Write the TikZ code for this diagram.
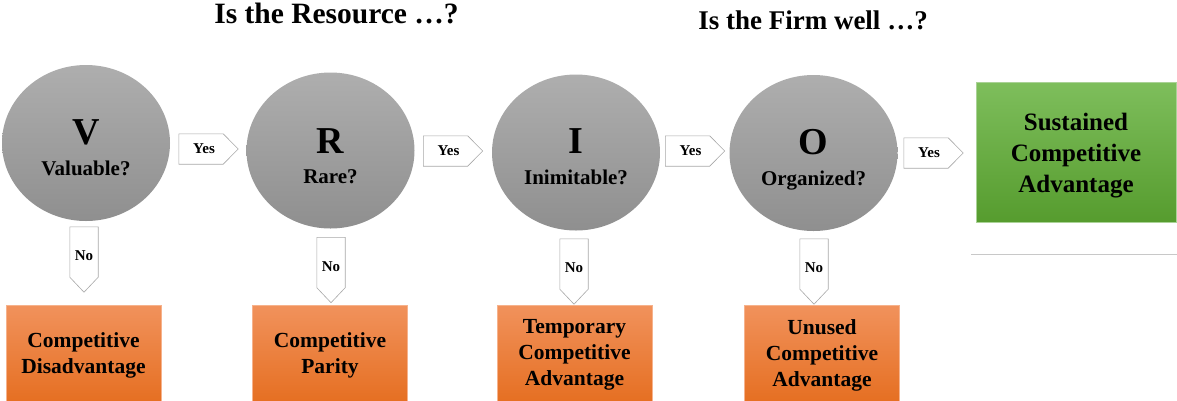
\documentclass[tikz,border=0pt]{standalone}
\usepackage{fontspec}
\setmainfont{Liberation Serif}
\usetikzlibrary{shapes.geometric}

\definecolor{circtop}{RGB}{174,174,174}
\definecolor{circbot}{RGB}{143,143,143}
\definecolor{ortop}{RGB}{241,146,92}
\definecolor{orbot}{RGB}{229,110,32}
\definecolor{orborder}{RGB}{246,178,140}
\definecolor{grtop}{RGB}{126,190,92}
\definecolor{grbot}{RGB}{86,156,46}
\definecolor{grborder}{RGB}{170,210,150}
\definecolor{arrowline}{RGB}{168,168,168}
\definecolor{rulegray}{RGB}{200,200,200}

\begin{document}
\begin{tikzpicture}[x=1pt,y=-1pt,
  question/.style={ellipse, minimum width=168pt, minimum height=156pt, inner sep=0pt,
    top color=circtop, bottom color=circbot},
  bigletter/.style={anchor=base, inner sep=0pt, font=\fontsize{38}{42}\selectfont\bfseries},
  subtext/.style={anchor=base, inner sep=0pt, font=\fontsize{21}{25}\selectfont\bfseries},
  heading/.style={anchor=base, inner sep=0pt},
  yesbody/.style={rectangle, minimum width=44pt, minimum height=30pt, inner sep=0pt,
    font=\fontsize{15}{18}\selectfont\bfseries},
  nobody/.style={rectangle, minimum width=28pt, minimum height=50pt, inner sep=0pt,
    font=\fontsize{15}{18}\selectfont\bfseries},
  blockarrow/.style={draw=arrowline, fill=white, line width=0.6pt, line join=miter},
  outcome/.style={rectangle, top color=ortop, bottom color=orbot, draw=orborder, line width=0.5pt,
    minimum width=155pt, minimum height=100pt, inner sep=0pt, align=center,
    font=\fontsize{21.5}{26}\selectfont\bfseries},
  success/.style={rectangle, top color=grtop, bottom color=grbot, draw=grborder, line width=0.5pt,
    minimum width=200pt, minimum height=140pt, inner sep=0pt},
  successtext/.style={inner sep=0pt, align=center, font=\fontsize{25}{31}\selectfont\bfseries},
]
\useasboundingbox (0,0) rectangle (1177,400);

% headings
\node[heading, font=\fontsize{29.5}{34}\selectfont\bfseries] (h1) at (336.5,23) {Is the Resource …?};
\node[heading, font=\fontsize{27}{32}\selectfont\bfseries] (h2) at (813,29) {Is the Firm well …?};

% the four questions
\node[question] (V) at (86,143) {};
\node[question] (R) at (330.5,150.5) {};
\node[question] (I) at (576,152.5) {};
\node[question] (O) at (813.5,153) {};

\node[bigletter] (Vl) at (86,144) {V};
\node[subtext]   (Vq) at (86,175) {Valuable?};
\node[bigletter] (Rl) at (330.5,153) {R};
\node[subtext]   (Rq) at (330.5,183) {Rare?};
\node[bigletter] (Il) at (576,153) {I};
\node[subtext]   (Iq) at (576,184) {Inimitable?};
\node[bigletter] (Ol) at (813.5,154) {O};
\node[subtext]   (Oq) at (813.5,185) {Organized?};

% "Yes" block arrows pointing right
\foreach \n/\x/\y in {yV/201/149, yR/445.5/151, yI/687.5/151, yO/926/153}{
  \node[yesbody] (\n) at (\x,\y) {};
  \draw[blockarrow] (\n.north west) -- (\n.north east) -- ([xshift=15pt]\n.east)
    -- (\n.south east) -- (\n.south west) -- cycle;
  \node[yesbody] (\n t) at ([xshift=3pt]\n.center) {Yes};
}

% "No" block arrows pointing down
\foreach \n/\x/\y in {nV/84/252, nR/331/262.5, nI/574/264, nO/814/264}{
  \node[nobody] (\n) at (\x,\y) {};
  \draw[blockarrow] (\n.north west) -- (\n.north east) -- (\n.south east)
    -- ([yshift=-15pt]\n.south) -- (\n.south west) -- cycle;
  \node[nobody] (\n t) at ([yshift=-4pt]\n.center) {No};
}

% outcomes
\node[outcome] (cV) at (83.5,355) {Competitive\\Disadvantage};
\node[outcome] (cR) at (330,355) {Competitive\\Parity};
\node[outcome] (cI) at (574.5,355) {Temporary\\Competitive\\Advantage};
\node[outcome] (cO) at (822,355) {Unused\\Competitive\\Advantage};

\node[success] (sca) at (1076,152) {};
\node[successtext] (scat) at (1076,155.5) {Sustained\\Competitive\\Advantage};

% rule under the final result
\coordinate (ruleA) at (971,254);
\coordinate (ruleB) at (1177,254);
\draw[rulegray, line width=1pt] (ruleA) -- (ruleB);
\end{tikzpicture}
\end{document}
